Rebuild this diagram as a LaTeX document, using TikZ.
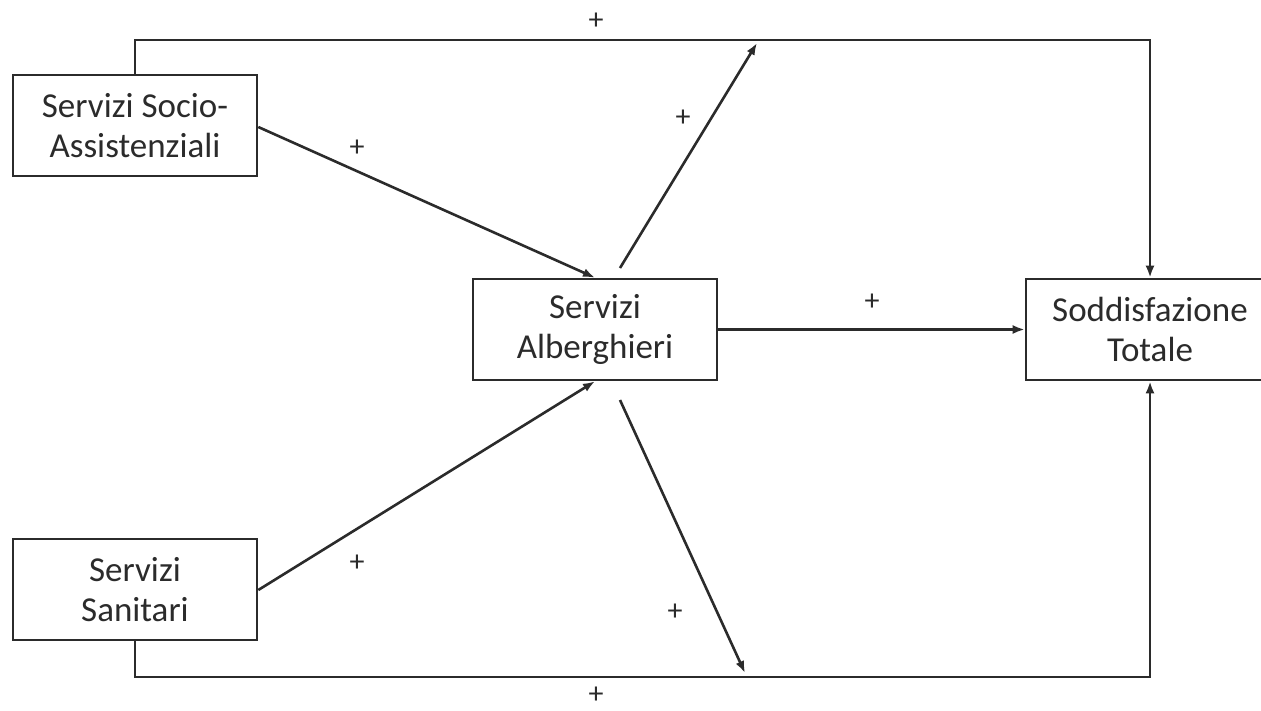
\documentclass[tikz,border=0pt]{standalone}
\usepackage{fontspec}
\setmainfont{Carlito}
\usetikzlibrary{arrows.meta}
\definecolor{ink}{HTML}{2B2B2B}
\begin{document}
\begin{tikzpicture}[x=1pt,y=-1pt,
  box/.style={draw=ink,line width=2.6pt,minimum width=244pt,minimum height=101pt,inner sep=0pt,align=center,font=\fontsize{35}{40}\selectfont,text=ink},
  conn/.style={draw=ink,line width=2.6pt,-{Latex[length=12pt,width=9pt]}},
  sign/.style={font=\fontsize{30}{30}\selectfont,text=ink,inner sep=0pt}]
\useasboundingbox (0,0) rectangle (1261,710);
\node[box] (A) at (135,125.5) {Servizi Socio-\\Assistenziali};
\node[box] (S) at (135,589.5) {Servizi\\Sanitari};
\node[box] (H) at (595,329.5) {Servizi\\Alberghieri};
\node[box,minimum width=248pt] (T) at (1150,329.5) {Soddisfazione\\Totale};
\coordinate (tl) at (135,40);
\coordinate (bl) at (135,677);
\draw[conn] (A.north) -- (tl) -| (T.north);
\draw[conn] (S.south) -- (bl) -| (T.south);
\draw[conn] (A.east |- 0,127) -- (H.north);
\draw[conn] (S.east |- 0,590) -- (H.south);
\draw[conn] (H.east) -- (T.west);
\coordinate (h1) at (620,268);
\coordinate (u1) at (757,43);
\coordinate (h2) at (620,400);
\coordinate (d1) at (745,673);
\draw[conn] (h1) -- (u1);
\draw[conn] (h2) -- (d1);
\node[sign] (p1) at (596,21) {+};
\node[sign] (p2) at (683,118) {+};
\node[sign] (p3) at (357,148) {+};
\node[sign] (p4) at (872,302) {+};
\node[sign] (p5) at (357,563) {+};
\node[sign] (p6) at (675,612) {+};
\node[sign] (p7) at (596,695) {+};
\end{tikzpicture}
\end{document}
